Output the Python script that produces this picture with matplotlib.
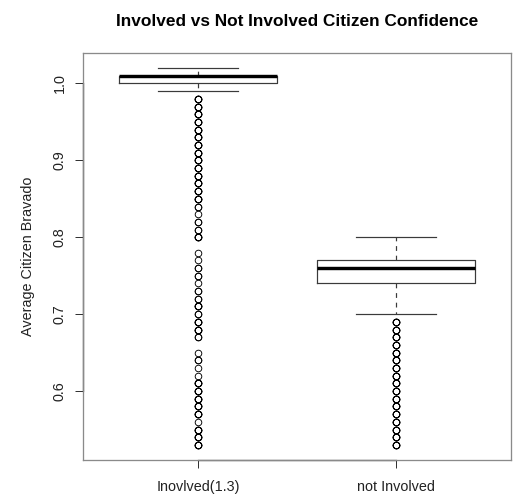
import matplotlib
matplotlib.use("Agg")
import matplotlib.pyplot as plt

# group names and box statistics
groups = ["Inovlved(1.3)", "not Involved"]
q1 = [1.00, 0.74]
med = [1.01, 0.76]
q3 = [1.01, 0.77]
whis_lo = [0.99, 0.70]
whis_hi = [1.02, 0.80]

# outliers (value, how many times it seems overplotted)
out_involved = [0.98, 0.97, 0.96, 0.95, 0.94, 0.93, 0.92, 0.91, 0.90, 0.89,
                0.88, 0.87, 0.86, 0.85, 0.84, 0.83, 0.82, 0.81, 0.80,
                0.78, 0.77, 0.76, 0.75, 0.74, 0.73, 0.72, 0.71, 0.70, 0.69,
                0.68, 0.67,
                0.65, 0.64, 0.63, 0.62, 0.61, 0.60, 0.59, 0.58, 0.57, 0.56,
                0.55, 0.54, 0.53]
cnt_involved = [4, 4, 4, 4, 4, 4, 4, 4, 4, 4,
                4, 4, 4, 4, 2, 1, 2, 2, 4,
                1, 1, 2, 2, 1, 2, 2, 4, 2, 4,
                4, 2,
                1, 2, 1, 1, 4, 4, 4, 4, 4, 1,
                4, 4, 4]
out_not = [0.69, 0.68, 0.67, 0.66, 0.65, 0.64, 0.63, 0.62, 0.61, 0.60,
           0.59, 0.58, 0.57, 0.56, 0.55, 0.54, 0.53]
cnt_not = [4] * len(out_not)

yticks = [0.6, 0.7, 0.8, 0.9, 1.0]

fliers = [
    [v for v, c in zip(out_involved, cnt_involved) for _ in range(c)],
    [v for v, c in zip(out_not, cnt_not) for _ in range(c)],
]

stats = []
for i in range(len(groups)):
    stats.append(dict(label=groups[i], q1=q1[i], med=med[i], q3=q3[i],
                      whislo=whis_lo[i], whishi=whis_hi[i], fliers=fliers[i]))

plt.rcParams['font.family'] = ['Liberation Sans', 'DejaVu Sans']

fig = plt.figure(figsize=(515 / 72, 495 / 72), dpi=72)
ax = fig.add_axes([83 / 515, 35 / 495, 428 / 515, 407 / 495])

positions = [1, 2]
line_col = '#3a3a3a'
ax.bxp(stats, positions=positions, widths=0.8, capwidths=0.4,
       boxprops=dict(color=line_col, linewidth=1.2),
       medianprops=dict(color='black', linewidth=3.4, solid_capstyle='butt'),
       whiskerprops=dict(color=line_col, linewidth=1.2, linestyle=(0, (4, 4))),
       capprops=dict(color=line_col, linewidth=1.2),
       flierprops=dict(marker='o', markerfacecolor='none', markeredgecolor='black',
                       markersize=6.6, markeredgewidth=0.9, linestyle='none'))

ymin = min(out_involved + out_not)
ymax = max(whis_hi)
pad = 0.04 * (ymax - ymin)
ax.set_ylim(ymin - pad, ymax + pad)
ax.set_xlim(0.42, 2.58)

ax.set_yticks(yticks)
ax.set_yticklabels([f"{t:.1f}" for t in yticks], rotation=90, va='center')
ax.set_xticks(positions)
ax.set_xticklabels(groups)
ax.tick_params(axis='both', length=8, width=1, color='#333333', labelsize=14.4, labelcolor='#222222')
ax.tick_params(axis='y', pad=8)
ax.tick_params(axis='x', pad=12)

for s in ax.spines.values():
    s.set_color('#8a8a8a')
    s.set_linewidth(1.3)

# R style axis lines between the outer ticks
ylo, yhi = ax.get_ylim()
ax.plot([positions[0], positions[-1]], [ylo, ylo], color='#333333', lw=1.3, clip_on=False)
ax.plot([0.42, 0.42], [yticks[0], yticks[-1]], color='#333333', lw=1.3, clip_on=False)

ax.set_ylabel("Average Citizen Bravado", fontsize=14.4, color='#222222', labelpad=18)
ax.set_title("Involved vs Not Involved Citizen Confidence",
             fontsize=17.3, fontweight='bold', pad=27)

fig.savefig("out.png", dpi=72)
